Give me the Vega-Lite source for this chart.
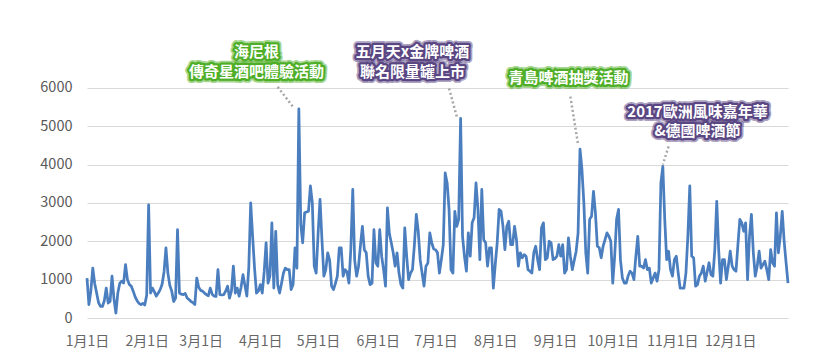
{
"$schema": "https://vega.github.io/schema/vega-lite/v6.json",
"width": 701, "height": 307,
"autosize": "none",
"padding": {"left": 87, "top": 11, "right": 31, "bottom": 38},
"background": "white",
"config": {"view": {"stroke": null}, "font": "Noto Sans CJK TC"},
"datasets": {
"sales": [
{"date":"2017-01-01","v":1040},{"date":"2017-01-02","v":350},{"date":"2017-01-03","v":700},{"date":"2017-01-04","v":1300},{"date":"2017-01-05","v":900},{"date":"2017-01-06","v":650},{"date":"2017-01-07","v":400},{"date":"2017-01-08","v":300},{"date":"2017-01-09","v":300},{"date":"2017-01-10","v":450},{"date":"2017-01-11","v":780},{"date":"2017-01-12","v":390},{"date":"2017-01-13","v":430},{"date":"2017-01-14","v":1090},{"date":"2017-01-15","v":500},{"date":"2017-01-16","v":130},{"date":"2017-01-17","v":650},{"date":"2017-01-18","v":900},{"date":"2017-01-19","v":960},{"date":"2017-01-20","v":910},{"date":"2017-01-21","v":1390},{"date":"2017-01-22","v":1000},{"date":"2017-01-23","v":870},{"date":"2017-01-24","v":830},{"date":"2017-01-25","v":700},{"date":"2017-01-26","v":550},{"date":"2017-01-27","v":450},{"date":"2017-01-28","v":380},{"date":"2017-01-29","v":350},{"date":"2017-01-30","v":380},{"date":"2017-01-31","v":340},
{"date":"2017-02-01","v":600},{"date":"2017-02-02","v":2950},{"date":"2017-02-03","v":650},{"date":"2017-02-04","v":780},{"date":"2017-02-05","v":680},{"date":"2017-02-06","v":570},{"date":"2017-02-07","v":650},{"date":"2017-02-08","v":740},{"date":"2017-02-09","v":880},{"date":"2017-02-10","v":1200},{"date":"2017-02-11","v":1830},{"date":"2017-02-12","v":1170},{"date":"2017-02-13","v":850},{"date":"2017-02-14","v":700},{"date":"2017-02-15","v":430},{"date":"2017-02-16","v":520},{"date":"2017-02-17","v":2300},{"date":"2017-02-18","v":650},{"date":"2017-02-19","v":620},{"date":"2017-02-20","v":610},{"date":"2017-02-21","v":640},{"date":"2017-02-22","v":520},{"date":"2017-02-23","v":480},{"date":"2017-02-24","v":430},{"date":"2017-02-25","v":400},{"date":"2017-02-26","v":350},{"date":"2017-02-27","v":1040},{"date":"2017-02-28","v":800},
{"date":"2017-03-01","v":720},{"date":"2017-03-02","v":700},{"date":"2017-03-03","v":650},{"date":"2017-03-04","v":610},{"date":"2017-03-05","v":580},{"date":"2017-03-06","v":780},{"date":"2017-03-07","v":620},{"date":"2017-03-08","v":570},{"date":"2017-03-09","v":560},{"date":"2017-03-10","v":1260},{"date":"2017-03-11","v":610},{"date":"2017-03-12","v":600},{"date":"2017-03-13","v":610},{"date":"2017-03-14","v":700},{"date":"2017-03-15","v":830},{"date":"2017-03-16","v":520},{"date":"2017-03-17","v":700},{"date":"2017-03-18","v":1350},{"date":"2017-03-19","v":650},{"date":"2017-03-20","v":780},{"date":"2017-03-21","v":570},{"date":"2017-03-22","v":800},{"date":"2017-03-23","v":1130},{"date":"2017-03-24","v":850},{"date":"2017-03-25","v":570},{"date":"2017-03-26","v":1300},{"date":"2017-03-27","v":3000},{"date":"2017-03-28","v":2130},{"date":"2017-03-29","v":1300},{"date":"2017-03-30","v":650},{"date":"2017-03-31","v":700},
{"date":"2017-04-01","v":870},{"date":"2017-04-02","v":650},{"date":"2017-04-03","v":1200},{"date":"2017-04-04","v":1960},{"date":"2017-04-05","v":910},{"date":"2017-04-06","v":1100},{"date":"2017-04-07","v":2480},{"date":"2017-04-08","v":780},{"date":"2017-04-09","v":2260},{"date":"2017-04-10","v":870},{"date":"2017-04-11","v":650},{"date":"2017-04-12","v":900},{"date":"2017-04-13","v":1170},{"date":"2017-04-14","v":1300},{"date":"2017-04-15","v":1260},{"date":"2017-04-16","v":1260},{"date":"2017-04-17","v":740},{"date":"2017-04-18","v":870},{"date":"2017-04-19","v":1830},{"date":"2017-04-20","v":1300},{"date":"2017-04-21","v":5450},{"date":"2017-04-22","v":2440},{"date":"2017-04-23","v":1960},{"date":"2017-04-24","v":2740},{"date":"2017-04-25","v":2760},{"date":"2017-04-26","v":2780},{"date":"2017-04-27","v":3440},{"date":"2017-04-28","v":3000},{"date":"2017-04-29","v":1350},{"date":"2017-04-30","v":1170},
{"date":"2017-05-01","v":2200},{"date":"2017-05-02","v":3090},{"date":"2017-05-03","v":2040},{"date":"2017-05-04","v":1090},{"date":"2017-05-05","v":1260},{"date":"2017-05-06","v":1700},{"date":"2017-05-07","v":1500},{"date":"2017-05-08","v":830},{"date":"2017-05-09","v":740},{"date":"2017-05-10","v":900},{"date":"2017-05-11","v":1090},{"date":"2017-05-12","v":1830},{"date":"2017-05-13","v":1830},{"date":"2017-05-14","v":1090},{"date":"2017-05-15","v":1260},{"date":"2017-05-16","v":1200},{"date":"2017-05-17","v":910},{"date":"2017-05-18","v":1800},{"date":"2017-05-19","v":3350},{"date":"2017-05-20","v":1500},{"date":"2017-05-21","v":1090},{"date":"2017-05-22","v":1350},{"date":"2017-05-23","v":1900},{"date":"2017-05-24","v":2390},{"date":"2017-05-25","v":1780},{"date":"2017-05-26","v":1700},{"date":"2017-05-27","v":1090},{"date":"2017-05-28","v":870},{"date":"2017-05-29","v":910},{"date":"2017-05-30","v":2300},{"date":"2017-05-31","v":1440},
{"date":"2017-06-01","v":1350},{"date":"2017-06-02","v":2300},{"date":"2017-06-03","v":1610},{"date":"2017-06-04","v":1260},{"date":"2017-06-05","v":830},{"date":"2017-06-06","v":2870},{"date":"2017-06-07","v":2200},{"date":"2017-06-08","v":1960},{"date":"2017-06-09","v":1700},{"date":"2017-06-10","v":1350},{"date":"2017-06-11","v":1700},{"date":"2017-06-12","v":1170},{"date":"2017-06-13","v":870},{"date":"2017-06-14","v":780},{"date":"2017-06-15","v":2350},{"date":"2017-06-16","v":1600},{"date":"2017-06-17","v":1000},{"date":"2017-06-18","v":1170},{"date":"2017-06-19","v":1260},{"date":"2017-06-20","v":1900},{"date":"2017-06-21","v":2700},{"date":"2017-06-22","v":2260},{"date":"2017-06-23","v":1520},{"date":"2017-06-24","v":1170},{"date":"2017-06-25","v":830},{"date":"2017-06-26","v":1350},{"date":"2017-06-27","v":1430},{"date":"2017-06-28","v":2220},{"date":"2017-06-29","v":1960},{"date":"2017-06-30","v":1800},
{"date":"2017-07-01","v":1780},{"date":"2017-07-02","v":1700},{"date":"2017-07-03","v":1170},{"date":"2017-07-04","v":1520},{"date":"2017-07-05","v":1910},{"date":"2017-07-06","v":3780},{"date":"2017-07-07","v":3520},{"date":"2017-07-08","v":2830},{"date":"2017-07-09","v":1260},{"date":"2017-07-10","v":1170},{"date":"2017-07-11","v":2780},{"date":"2017-07-12","v":2390},{"date":"2017-07-13","v":2570},{"date":"2017-07-14","v":5200},{"date":"2017-07-15","v":2130},{"date":"2017-07-16","v":1610},{"date":"2017-07-17","v":1220},{"date":"2017-07-18","v":2220},{"date":"2017-07-19","v":1610},{"date":"2017-07-20","v":2480},{"date":"2017-07-21","v":2610},{"date":"2017-07-22","v":3520},{"date":"2017-07-23","v":2830},{"date":"2017-07-24","v":1520},{"date":"2017-07-25","v":3350},{"date":"2017-07-26","v":2040},{"date":"2017-07-27","v":1960},{"date":"2017-07-28","v":1350},{"date":"2017-07-29","v":1830},{"date":"2017-07-30","v":1830},{"date":"2017-07-31","v":780},
{"date":"2017-08-01","v":1400},{"date":"2017-08-02","v":1960},{"date":"2017-08-03","v":2830},{"date":"2017-08-04","v":2780},{"date":"2017-08-05","v":2390},{"date":"2017-08-06","v":1780},{"date":"2017-08-07","v":2390},{"date":"2017-08-08","v":2520},{"date":"2017-08-09","v":1910},{"date":"2017-08-10","v":1910},{"date":"2017-08-11","v":2390},{"date":"2017-08-12","v":2040},{"date":"2017-08-13","v":1350},{"date":"2017-08-14","v":1700},{"date":"2017-08-15","v":1570},{"date":"2017-08-16","v":1650},{"date":"2017-08-17","v":1610},{"date":"2017-08-18","v":1260},{"date":"2017-08-19","v":1220},{"date":"2017-08-20","v":1170},{"date":"2017-08-21","v":1700},{"date":"2017-08-22","v":1870},{"date":"2017-08-23","v":1520},{"date":"2017-08-24","v":1260},{"date":"2017-08-25","v":2350},{"date":"2017-08-26","v":2480},{"date":"2017-08-27","v":1520},{"date":"2017-08-28","v":1570},{"date":"2017-08-29","v":2000},{"date":"2017-08-30","v":1960},{"date":"2017-08-31","v":1520},
{"date":"2017-09-01","v":1550},{"date":"2017-09-02","v":1610},{"date":"2017-09-03","v":1910},{"date":"2017-09-04","v":1610},{"date":"2017-09-05","v":1910},{"date":"2017-09-06","v":1170},{"date":"2017-09-07","v":1260},{"date":"2017-09-08","v":2090},{"date":"2017-09-09","v":1610},{"date":"2017-09-10","v":1260},{"date":"2017-09-11","v":1500},{"date":"2017-09-12","v":1740},{"date":"2017-09-13","v":2220},{"date":"2017-09-14","v":4400},{"date":"2017-09-15","v":3870},{"date":"2017-09-16","v":3000},{"date":"2017-09-17","v":1700},{"date":"2017-09-18","v":1170},{"date":"2017-09-19","v":2570},{"date":"2017-09-20","v":2650},{"date":"2017-09-21","v":3300},{"date":"2017-09-22","v":2740},{"date":"2017-09-23","v":1870},{"date":"2017-09-24","v":1830},{"date":"2017-09-25","v":1570},{"date":"2017-09-26","v":1870},{"date":"2017-09-27","v":2040},{"date":"2017-09-28","v":2220},{"date":"2017-09-29","v":2130},{"date":"2017-09-30","v":2000},
{"date":"2017-10-01","v":910},{"date":"2017-10-02","v":1610},{"date":"2017-10-03","v":2570},{"date":"2017-10-04","v":2830},{"date":"2017-10-05","v":1520},{"date":"2017-10-06","v":1040},{"date":"2017-10-07","v":910},{"date":"2017-10-08","v":910},{"date":"2017-10-09","v":1100},{"date":"2017-10-10","v":1220},{"date":"2017-10-11","v":1170},{"date":"2017-10-12","v":1000},{"date":"2017-10-13","v":1610},{"date":"2017-10-14","v":2130},{"date":"2017-10-15","v":1350},{"date":"2017-10-16","v":1350},{"date":"2017-10-17","v":1300},{"date":"2017-10-18","v":1520},{"date":"2017-10-19","v":1260},{"date":"2017-10-20","v":1300},{"date":"2017-10-21","v":910},{"date":"2017-10-22","v":1040},{"date":"2017-10-23","v":1170},{"date":"2017-10-24","v":960},{"date":"2017-10-25","v":1260},{"date":"2017-10-26","v":3520},{"date":"2017-10-27","v":3950},{"date":"2017-10-28","v":2570},{"date":"2017-10-29","v":1520},{"date":"2017-10-30","v":1740},{"date":"2017-10-31","v":1260},
{"date":"2017-11-01","v":1090},{"date":"2017-11-02","v":1520},{"date":"2017-11-03","v":1610},{"date":"2017-11-04","v":1170},{"date":"2017-11-05","v":780},{"date":"2017-11-06","v":780},{"date":"2017-11-07","v":780},{"date":"2017-11-08","v":1170},{"date":"2017-11-09","v":2130},{"date":"2017-11-10","v":3440},{"date":"2017-11-11","v":1610},{"date":"2017-11-12","v":1570},{"date":"2017-11-13","v":830},{"date":"2017-11-14","v":870},{"date":"2017-11-15","v":1090},{"date":"2017-11-16","v":1170},{"date":"2017-11-17","v":1350},{"date":"2017-11-18","v":960},{"date":"2017-11-19","v":1200},{"date":"2017-11-20","v":1440},{"date":"2017-11-21","v":1130},{"date":"2017-11-22","v":1090},{"date":"2017-11-23","v":1780},{"date":"2017-11-24","v":3040},{"date":"2017-11-25","v":1780},{"date":"2017-11-26","v":910},{"date":"2017-11-27","v":1520},{"date":"2017-11-28","v":1520},{"date":"2017-11-29","v":1000},{"date":"2017-11-30","v":1350},
{"date":"2017-12-01","v":1740},{"date":"2017-12-02","v":1350},{"date":"2017-12-03","v":1260},{"date":"2017-12-04","v":1220},{"date":"2017-12-05","v":1910},{"date":"2017-12-06","v":2570},{"date":"2017-12-07","v":2480},{"date":"2017-12-08","v":2260},{"date":"2017-12-09","v":2480},{"date":"2017-12-10","v":1000},{"date":"2017-12-11","v":2130},{"date":"2017-12-12","v":2700},{"date":"2017-12-13","v":1700},{"date":"2017-12-14","v":1090},{"date":"2017-12-15","v":1350},{"date":"2017-12-16","v":1740},{"date":"2017-12-17","v":1300},{"date":"2017-12-18","v":1390},{"date":"2017-12-19","v":1480},{"date":"2017-12-20","v":1260},{"date":"2017-12-21","v":1000},{"date":"2017-12-22","v":1780},{"date":"2017-12-23","v":1440},{"date":"2017-12-24","v":1350},{"date":"2017-12-25","v":2740},{"date":"2017-12-26","v":1700},{"date":"2017-12-27","v":2130},{"date":"2017-12-28","v":2780},{"date":"2017-12-29","v":2000},{"date":"2017-12-30","v":1440},{"date":"2017-12-31","v":910}
],
"notes": [
{"date":"2017-03-30","v":6944,"label":"海尼根","kind":"g"},
{"date":"2017-03-30","v":6423,"label":"傳奇星酒吧體驗活動","kind":"g"},
{"date":"2017-06-19","v":6944,"label":"五月天x金牌啤酒","kind":"p"},
{"date":"2017-06-19","v":6423,"label":"聯名限量罐上市","kind":"p"},
{"date":"2017-09-08","v":6266,"label":"青島啤酒抽獎活動","kind":"g"},
{"date":"2017-11-14","v":5380,"label":"2017歐洲風味嘉年華","kind":"p"},
{"date":"2017-11-14","v":4884,"label":"&德國啤酒節","kind":"p"}
],
"links": [
{"d1":"2017-04-10","v1":6023,"d2":"2017-04-18","v2":5502},
{"d1":"2017-07-08","v1":5980,"d2":"2017-07-12","v2":5250},
{"d1":"2017-09-09","v1":5770,"d2":"2017-09-13","v2":4520},
{"d1":"2017-10-30","v1":4470,"d2":"2017-10-27","v2":4000}
]
},
"layer": [
{
"data": {"name": "sales"},
"mark": {"type": "line", "color": "#4a7ebf", "strokeWidth": 2.75, "strokeJoin": "round"},
"encoding": {
"x": {"field": "date", "type": "temporal",
"scale": {"type": "utc", "domain": [{"year": 2017, "month": 1, "date": 1, "utc": true}, {"year": 2017, "month": 12, "date": 31, "utc": true}]},
"axis": {"title": null, "grid": false, "domain": false, "ticks": false, "labelPadding": 16, "labelFontSize": 14, "labelColor": "#666666", "labelFont": "Noto Sans CJK TC", "labelFlush": false,
"values": [{"year":2017,"month":1,"date":1,"utc":true},{"year":2017,"month":2,"date":1,"utc":true},{"year":2017,"month":3,"date":1,"utc":true},{"year":2017,"month":4,"date":1,"utc":true},{"year":2017,"month":5,"date":1,"utc":true},{"year":2017,"month":6,"date":1,"utc":true},{"year":2017,"month":7,"date":1,"utc":true},{"year":2017,"month":8,"date":1,"utc":true},{"year":2017,"month":9,"date":1,"utc":true},{"year":2017,"month":10,"date":1,"utc":true},{"year":2017,"month":11,"date":1,"utc":true},{"year":2017,"month":12,"date":1,"utc":true}],
"labelExpr": "(utcmonth(datum.value) + 1) + '月1日'", "labelOverlap": false}},
"y": {"field": "v", "type": "quantitative",
"scale": {"domain": [0, 8000], "nice": false},
"axis": {"title": null, "values": [0, 1000, 2000, 3000, 4000, 5000, 6000], "format": "d", "domain": false, "ticks": false, "grid": true, "gridColor": "#d9d9d9", "gridWidth": 1, "labelPadding": 15, "labelFontSize": 14.5, "labelColor": "#595959", "labelFont": "Noto Sans CJK TC"}}
}
},
{
"data": {"name": "links"},
"mark": {"type": "rule", "color": "#a6a6a6", "strokeWidth": 2.5, "strokeDash": [2, 2.5]},
"encoding": {
"x": {"field": "d1", "type": "temporal"},
"x2": {"field": "d2"},
"y": {"field": "v1", "type": "quantitative"},
"y2": {"field": "v2"}
}
},
{
"data": {"name": "notes"},
"mark": {"type": "text", "fontSize": 15, "fontWeight": "bold", "strokeWidth": 8, "strokeJoin": "round", "opacity": 0.5, "baseline": "middle", "align": "center"},
"encoding": {
"x": {"field": "date", "type": "temporal"},
"y": {"field": "v", "type": "quantitative"},
"text": {"field": "label"},
"fill": {"field": "kind", "type": "nominal", "scale": {"domain": ["g", "p"], "range": ["#4fae28", "#5a4682"]}, "legend": null},
"stroke": {"field": "kind", "type": "nominal", "scale": {"domain": ["g", "p"], "range": ["#4fae28", "#5a4682"]}, "legend": null}
}
},
{
"data": {"name": "notes"},
"mark": {"type": "text", "fontSize": 15, "fontWeight": "bold", "strokeWidth": 4.5, "strokeJoin": "round", "baseline": "middle", "align": "center"},
"encoding": {
"x": {"field": "date", "type": "temporal"},
"y": {"field": "v", "type": "quantitative"},
"text": {"field": "label"},
"fill": {"field": "kind", "type": "nominal", "scale": {"domain": ["g", "p"], "range": ["#4fae28", "#5a4682"]}, "legend": null},
"stroke": {"field": "kind", "type": "nominal", "scale": {"domain": ["g", "p"], "range": ["#4fae28", "#5a4682"]}, "legend": null}
}
},
{
"data": {"name": "notes"},
"mark": {"type": "text", "fontSize": 15, "fontWeight": "bold", "fill": "#ffffff", "baseline": "middle", "align": "center"},
"encoding": {
"x": {"field": "date", "type": "temporal"},
"y": {"field": "v", "type": "quantitative"},
"text": {"field": "label"}
}
}
]
}
